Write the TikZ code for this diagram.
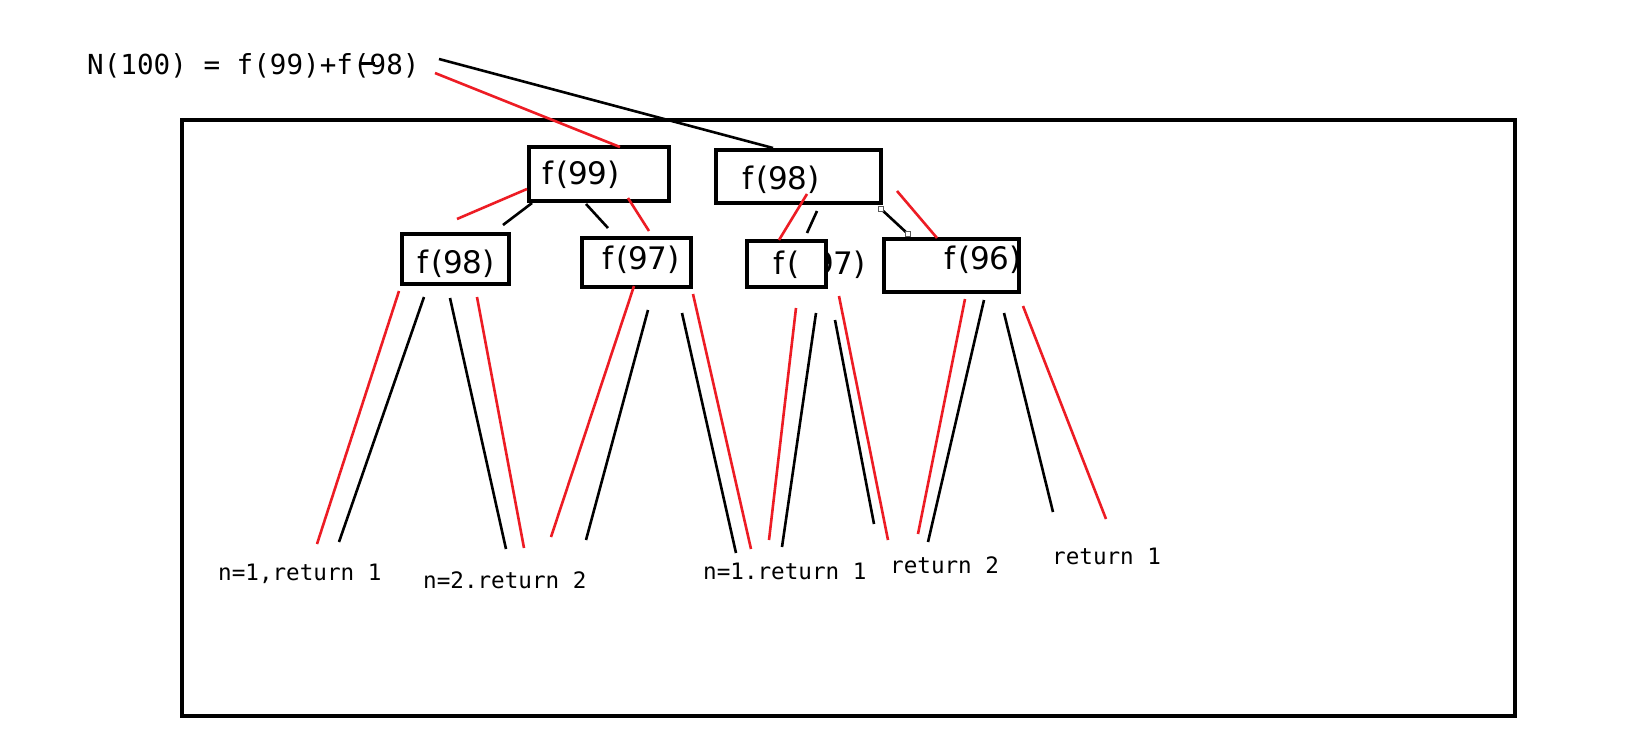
\documentclass[tikz,border=0pt]{standalone}
\usepackage{fontspec}
\newfontfamily\monofont{DejaVu Sans Mono}
\newfontfamily\boxfont{DejaVu Sans}
\definecolor{paintred}{RGB}{237,28,36}
\begin{document}
\begin{tikzpicture}[x=1pt,y=-1pt,
  frame/.style={draw=black,line width=3.2pt},
  bx/.style={draw=black,line width=3.5pt,inner sep=0pt},
  rl/.style={draw=paintred,line width=2.6pt},
  bl/.style={draw=black,line width=2.6pt},
  handle/.style={draw=gray!70!black,fill=white,line width=0.8pt,minimum size=4.5pt,inner sep=0pt},
  lbl/.style={anchor=base west,inner sep=0pt,font=\boxfont\fontsize{31}{36}\selectfont},
  ret/.style={anchor=base west,inner sep=0pt,font=\monofont\fontsize{22.6}{26}\selectfont},
  ttl/.style={anchor=base west,inner sep=0pt,font=\monofont\fontsize{27.6}{32}\selectfont},
]
\useasboundingbox (0,0) rectangle (1628,750);
\fill[white] (0,0) rectangle (1628,750);

% title
\node[ttl] (title) at (87,74) {N(100) = f(99)+f(98)};
\draw[line width=3pt] (360,63) -- (375,63);

% outer frame
\draw[frame] (182,120) rectangle (1515,716);

% boxes
\coordinate (b99a) at (529,147);   \coordinate (b99b) at (669,201);
\coordinate (b98ra) at (716,150);  \coordinate (b98rb) at (881,203);
\coordinate (b98la) at (402,234);  \coordinate (b98lb) at (509,284);
\coordinate (b97a) at (582,238);   \coordinate (b97b) at (691,287);
\coordinate (bfa) at (747,241);    \coordinate (bfb) at (826,287);
\coordinate (b96a) at (884,239);   \coordinate (b96b) at (1019,292);

% labels
\node[lbl] (t99) at (542,184) {f\kern3pt(99)};
\node[lbl] (t98r) at (742,189) {f\kern3pt(98)};
\node[lbl] (t98l) at (417,273) {f\kern3pt(98)};
\node[lbl] (t97) at (602,269) {f\kern3pt(97)};
\node[lbl] (tf) at (773,274) {f\kern3pt(};
\begin{scope}
  \clip (826,200) rectangle (900,300);
  \node[lbl] (t97b) at (814,274) {97)};
\end{scope}
\begin{scope}
  \clip (884,200) rectangle (1019,300);
  \node[lbl] (t96) at (944,269) {f\kern3pt(96)};
\end{scope}

\draw[bx] (b99a) rectangle (b99b);
\draw[bx] (b98ra) rectangle (b98rb);
\draw[bx] (b98la) rectangle (b98lb);
\draw[bx] (b97a) rectangle (b97b);
\draw[bx] (bfa) rectangle (bfb);
\draw[bx] (b96a) rectangle (b96b);

% top connectors
\draw[bl] (439,59) -- (773,148);
\draw[rl] (435,73) -- (620,147);

% under f(99)
\draw[rl] (527,189) -- (457,219);
\draw[bl] (532,203) -- (503,225);
\draw[bl] (586,204) -- (608,228);
\draw[rl] (628,198) -- (649,231);

% under f(98) right
\draw[rl] (807,194) -- (779,240);
\draw[bl] (817,211) -- (807,233);
\draw[bl] (881,209) -- (908,234);
\node[handle] at (881,209) {};
\node[handle] at (908,234) {};
\draw[rl] (897,191) -- (937,238);

% from f(98) left
\draw[rl] (399,291) -- (317,544);
\draw[bl] (424,297) -- (339,542);
\draw[bl] (450,298) -- (506,549);
\draw[rl] (477,297) -- (524,548);

% from f(97)
\draw[rl] (634,286) -- (551,537);
\draw[bl] (648,310) -- (586,540);
\draw[bl] (682,313) -- (736,553);
\draw[rl] (693,294) -- (751,549);

% from f( 97)
\draw[rl] (796,308) -- (769,540);
\draw[bl] (816,313) -- (782,547);
\draw[bl] (835,320) -- (874,524);
\draw[rl] (839,296) -- (888,540);

% from f(96)
\draw[rl] (965,299) -- (918,534);
\draw[bl] (984,300) -- (928,542);
\draw[bl] (1004,313) -- (1053,512);
\draw[rl] (1023,306) -- (1106,519);

% bottom labels
\node[ret] (r1) at (218,580) {n=1,return 1};
\node[ret] (r2) at (423,588) {n=2.return 2};
\node[ret] (r3) at (703,579) {n=1.return 1};
\node[ret] (r4) at (890,573) {return 2};
\node[ret] (r5) at (1052,564) {return 1};
\end{tikzpicture}
\end{document}
